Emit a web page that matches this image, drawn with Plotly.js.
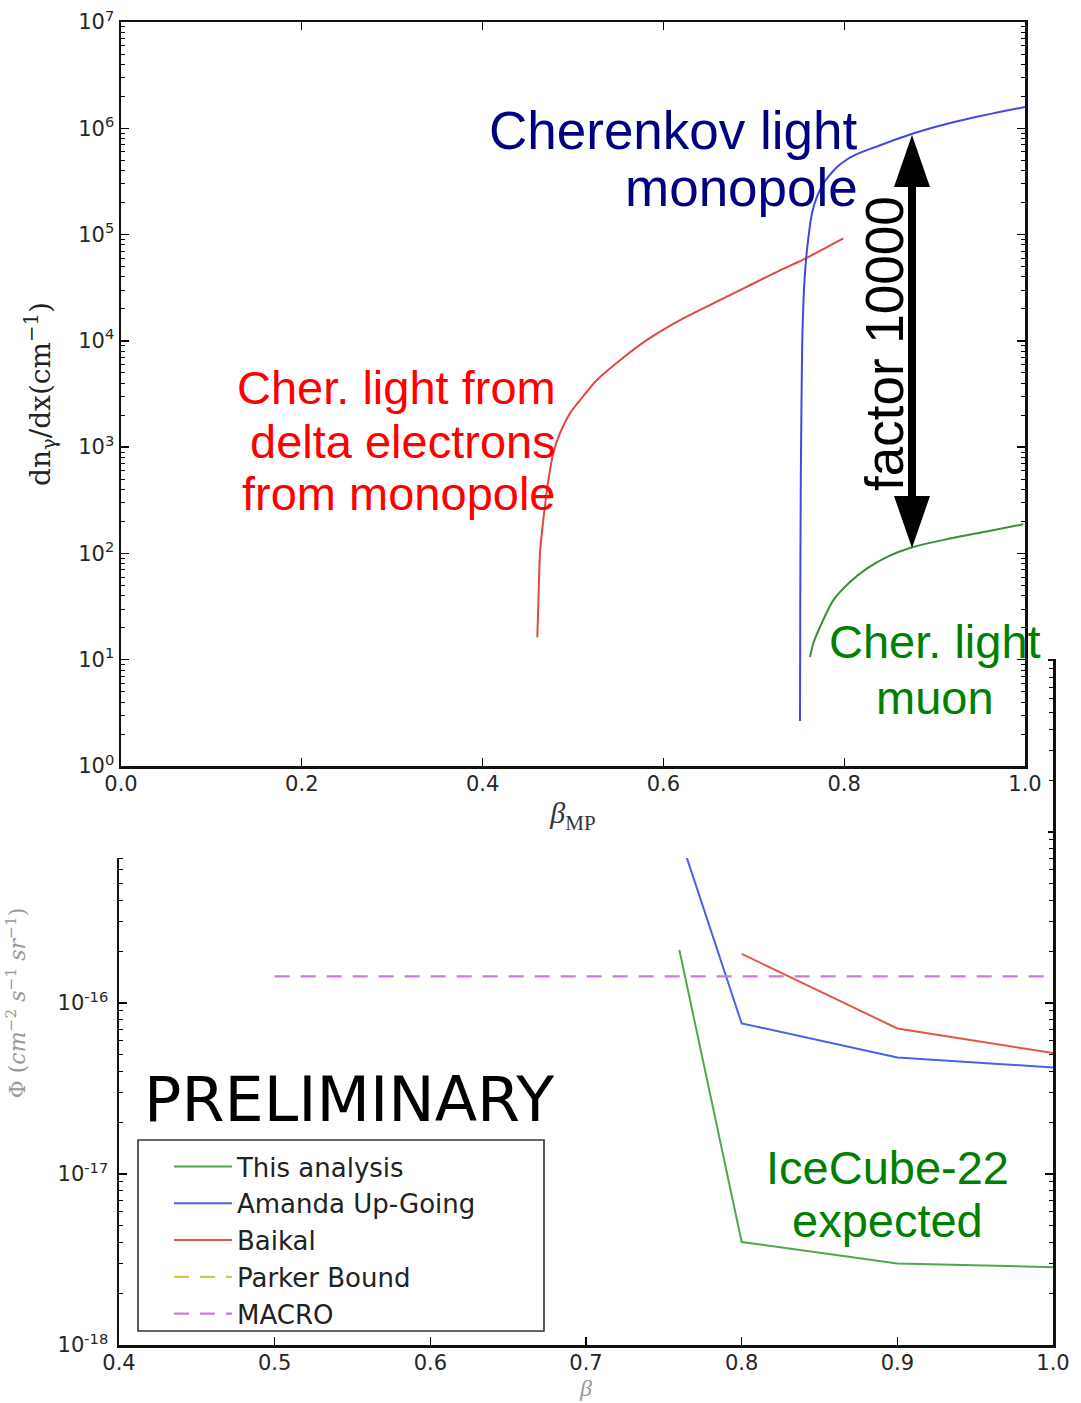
<!DOCTYPE html>
<html><head><meta charset="utf-8">
<script src="https://cdn.plot.ly/plotly-3.0.1.min.js"></script>
<style>
html,body{margin:0;padding:0;background:#fff;}
#wrap{position:relative;width:1081px;height:1403px;overflow:hidden;background:#fff;}
#bottom{position:absolute;left:0;top:0;width:1081px;height:1403px;z-index:1;}
#top{position:absolute;left:0;top:0;width:1048px;height:858px;z-index:2;}
</style></head><body>
<div id="wrap"><div id="bottom"></div><div id="top"></div></div>
<script>
// ---------- top panel data: photon yield vs beta_MP ----------
const redBeta  = [0.4605,0.4618,0.4635,0.4671,0.4727,0.4782,0.4856,0.4967,0.5077,0.5262,0.5520,0.5815,0.6184,0.6552,0.6921,0.7290,0.7585,0.7990];
const redYield = [16.3,36,100,205,485,877,1352,2085,2760,4260,6570,10150,15650,22500,32200,46100,60400,92000];

const blueBeta  = [0.7511,0.7514,0.7520,0.7528,0.7539,0.7561,0.7588,0.7644,0.7698,0.7777,0.7866,0.7959,0.8120,0.8330,0.8779,0.9263,1.0];
const blueYield = [2.65,36,488,2770,12600,37300,71500,159000,226000,309000,386000,461000,561000,659000,903000,1170000,1590000];

const muonBeta  = [0.7622,0.7658,0.7732,0.7879,0.8064,0.8249,0.8470,0.8764,0.9170,0.9576,0.9981];
const muonYield = [10.6,14.2,20.3,36.2,53.8,71.9,92.5,115,138,161,188];

const topXTicks    = [0,0.2,0.4,0.6,0.8,1.0];
const topXTickText = ['0.0','0.2','0.4','0.6','0.8','1.0'];
const topYTicks    = [1,10,100,1000,10000,100000,1000000,10000000];
const topYTickText = ['10<sup>0</sup>','10<sup>1</sup>','10<sup>2</sup>','10<sup>3</sup>','10<sup>4</sup>','10<sup>5</sup>','10<sup>6</sup>','10<sup>7</sup>'];

// ---------- bottom panel data: flux limits vs beta ----------
const analysisBeta = [0.76,0.8,0.9,1.0];
const analysisFlux = [2.04e-16,4.0e-18,3.0e-18,2.85e-18];
const amandaBeta   = [0.75,0.8,0.9,1.0];
const amandaFlux   = [1.8e-15,7.6e-17,4.8e-17,4.2e-17];
const baikalBeta   = [0.8,0.9,1.0];
const baikalFlux   = [1.94e-16,7.1e-17,5.1e-17];
const parkerBeta   = [0.5,0.99];
const parkerFlux   = [1e-15,1e-15];
const macroBeta    = [0.5,1.0];
const macroFlux    = [1.43e-16,1.43e-16];
const seriesNames  = ['This analysis','Amanda Up-Going','Baikal','Parker Bound','MACRO'];

const botXTicks    = [0.4,0.5,0.6,0.7,0.8,0.9,1.0];
const botXTickText = ['0.4','0.5','0.6','0.7','0.8','0.9','1.0'];
const botYTicks    = [1e-18,1e-17,1e-16,1e-15,1e-14];
const botYTickText = ['10<sup>-18</sup>','10<sup>-17</sup>','10<sup>-16</sup>','',''];

const tickFont = {family:'DejaVu Sans, Verdana, sans-serif', size:21, color:'#262626'};
const sansAnn = 'Liberation Sans, Arial, sans-serif';
const cfg = {staticPlot:true, displayModeBar:false};

function baseAxis(extra){
  return Object.assign({
    ticks:'inside', ticklen:8, tickwidth:1.3, tickcolor:'#000',
    showline:true, linewidth:2.5, linecolor:'#111', mirror:'ticks',
    showgrid:false, zeroline:false, tickfont:tickFont, tickmode:'array'
  }, extra);
}

// ---------- bottom plot ----------
const bottomTraces = [
  {x:analysisBeta, y:analysisFlux, name:seriesNames[0], mode:'lines', line:{color:'#4fa84f', width:2}},
  {x:amandaBeta, y:amandaFlux, name:seriesNames[1], mode:'lines', line:{color:'#4a62ea', width:2}},
  {x:baikalBeta, y:baikalFlux, name:seriesNames[2], mode:'lines', line:{color:'#e0584a', width:2}},
  {x:parkerBeta, y:parkerFlux, name:seriesNames[3], mode:'lines', line:{color:'#cccc44', width:2.2, dash:'15px,11px'}},
  {x:macroBeta, y:macroFlux, name:seriesNames[4], mode:'lines', line:{color:'#c77ddc', width:2.2, dash:'15px,11px'}}
];
const bottomLayout = {
  width:1081, height:1403,
  margin:{l:119, r:28, t:661, b:58},
  paper_bgcolor:'#fff', plot_bgcolor:'#fff',
  xaxis: baseAxis({range:[0.4,1.0], tickvals:botXTicks, ticktext:botXTickText, ticklabelstandoff:-3,
    title:{text:'<i>β</i>', font:{family:'Liberation Serif, serif', size:24, color:'#999'}, standoff:6}}),
  yaxis: baseAxis({type:'log', range:[-18,-14], tickvals:botYTicks, ticktext:botYTickText, ticklabelstandoff:4,
    minor:{ticks:'inside', ticklen:4, dtick:'D1', tickcolor:'#000', tickwidth:1, showgrid:false},
    title:{text:'Φ (<i>cm</i><sup>−2</sup> <i>s</i><sup>−1</sup> <i>sr</i><sup>−1</sup>)', font:{family:'DejaVu Serif, serif', size:22, color:'#999'}, standoff:26}}),
  showlegend:true,
  legend:{x:0.0535, y:0.2953, xanchor:'left', yanchor:'top', bgcolor:'rgba(0,0,0,0)', borderwidth:0,
    font:{family:'DejaVu Sans, Verdana, sans-serif', size:26, color:'#222'}, itemwidth:58, tracegroupgap:0},
  shapes:[
    {type:'rect', xref:'paper', yref:'paper', x0:0.02034, x1:0.45503, y0:0.02047, y1:0.29971,
     fillcolor:'#fff', line:{color:'#333', width:1.6}, layer:'above'}
  ],
  annotations:[
    {xref:'paper', yref:'paper', x:0.025, y:0.3582, xanchor:'left', yanchor:'middle', showarrow:false,
     text:'PRELIMINARY', font:{family:'DejaVu Sans, Verdana, sans-serif', size:62, color:'#000'}},
    {xref:'paper', yref:'paper', x:0.8233, y:0.2588, xanchor:'center', yanchor:'middle', showarrow:false,
     text:'IceCube-22', font:{family:sansAnn, size:47, color:'#008000'}},
    {xref:'paper', yref:'paper', x:0.8233, y:0.1827, xanchor:'center', yanchor:'middle', showarrow:false,
     text:'expected', font:{family:sansAnn, size:47, color:'#008000'}}
  ]
};
Plotly.newPlot('bottom', bottomTraces, bottomLayout, cfg);

// ---------- top plot ----------
const topTraces = [
  {x:redBeta, y:redYield, mode:'lines', line:{color:'#e04848', width:2, shape:'spline', smoothing:0.8}},
  {x:blueBeta, y:blueYield, mode:'lines', line:{color:'#4646e6', width:2, shape:'spline', smoothing:0.9}},
  {x:muonBeta, y:muonYield, mode:'lines', line:{color:'#3a8e3a', width:2, shape:'spline', smoothing:0.8}}
];
function ann(text, x, y, anchor, size, color, angle){
  return {xref:'paper', yref:'paper', x:x, y:y, xanchor:anchor, yanchor:'middle', showarrow:false,
    text:text, textangle:angle||0, font:{family:sansAnn, size:size, color:color}};
}
const topLayout = {
  width:1048, height:858,
  margin:{l:121, r:23, t:22, b:92},
  paper_bgcolor:'#fff', plot_bgcolor:'#fff', showlegend:false,
  xaxis: baseAxis({range:[0,1], tickvals:topXTicks, ticktext:topXTickText, ticklabelstandoff:-3,
    title:{text:'<i>β</i><sub>MP</sub>', font:{family:'Liberation Serif, serif', size:30, color:'#333'}, standoff:8}}),
  yaxis: baseAxis({type:'log', range:[0,7], tickvals:topYTicks, ticktext:topYTickText,
    minor:{ticks:'inside', ticklen:4, dtick:'D1', tickcolor:'#000', tickwidth:1, showgrid:false},
    title:{text:'dn<sub>γ</sub>/dx(cm<sup>−1</sup>)', font:{family:'DejaVu Serif, serif', size:28, color:'#222'}, standoff:20}}),
  annotations:[
    ann('Cherenkov light', 0.8175, 0.8548, 'right', 53, '#000080'),
    ann('monopole', 0.8175, 0.7769, 'right', 53, '#000080'),
    ann('Cher. light from', 0.4834, 0.5081, 'right', 47, '#ff0000'),
    ann('delta electrons', 0.4834, 0.4368, 'right', 47, '#ff0000'),
    ann('from monopole', 0.4834, 0.3656, 'right', 47, '#ff0000'),
    ann('Cher. light', 0.9004, 0.1667, 'center', 47, '#008000'),
    ann('muon', 0.9004, 0.0927, 'center', 47, '#008000'),
    ann('factor 10000', 0.844, 0.5685, 'center', 53, '#000', -90)
  ],
  shapes:[
    {type:'path', xref:'paper', yref:'paper', fillcolor:'#000', line:{width:0},
     path:'M0.875,0.84812 L0.89491,0.77823 L0.87942,0.77823 L0.87942,0.36290 L0.89491,0.36290 L0.875,0.29301 L0.85509,0.36290 L0.87058,0.36290 L0.87058,0.77823 L0.85509,0.77823 Z'}
  ]
};
Plotly.newPlot('top', topTraces, topLayout, cfg);
</script></body></html>
